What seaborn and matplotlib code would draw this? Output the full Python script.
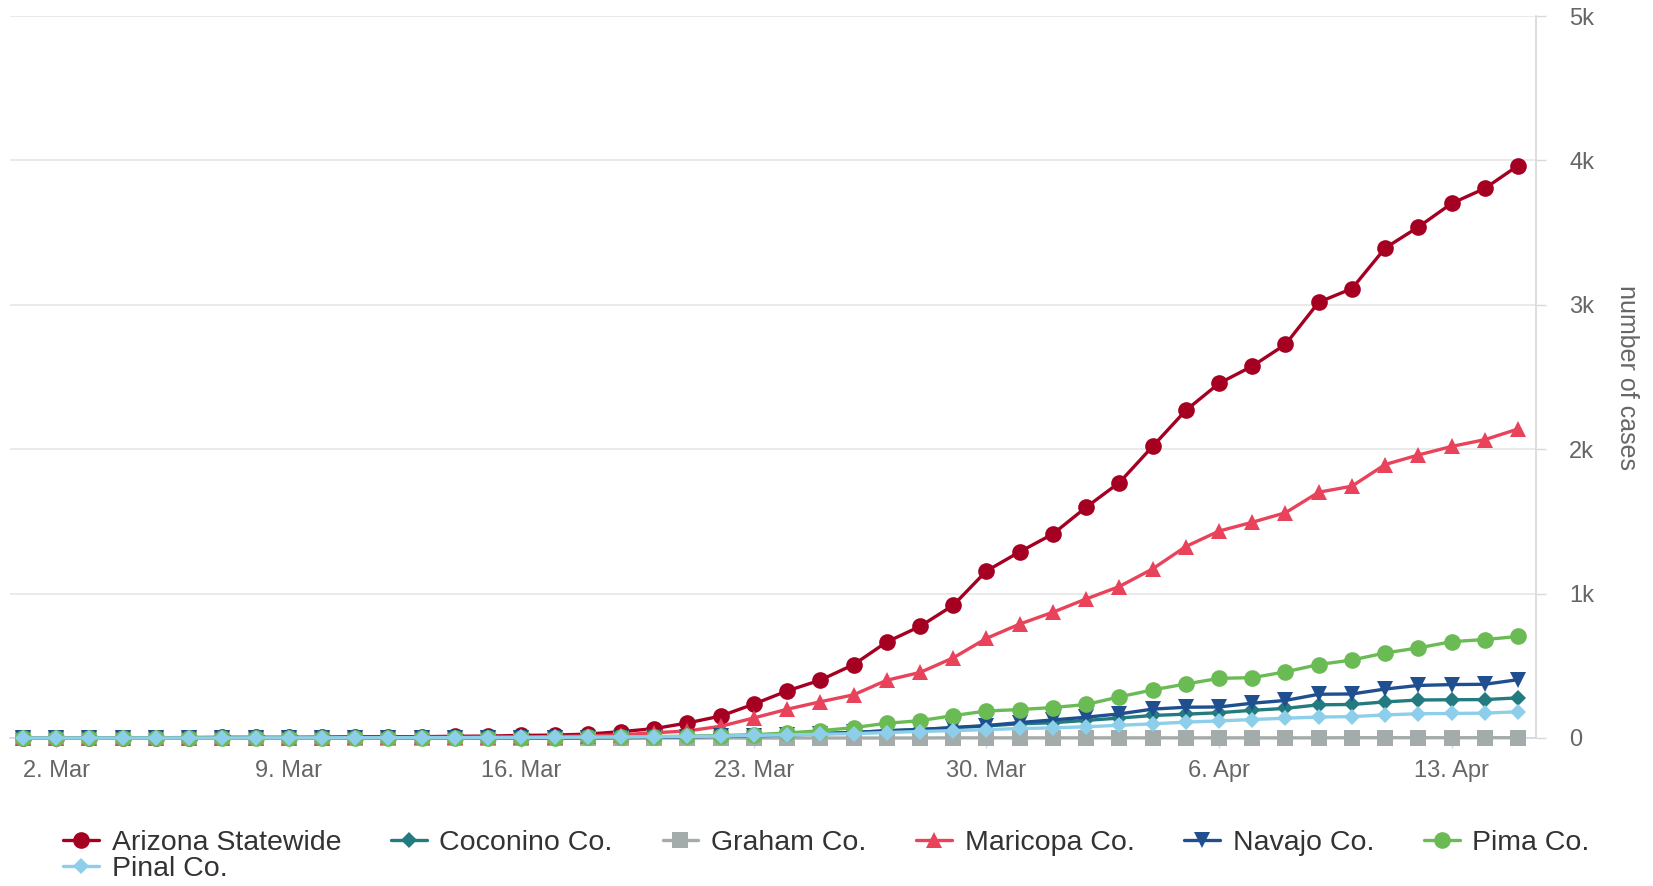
import numpy as np
import pandas as pd
import matplotlib
matplotlib.use("Agg")
import matplotlib.pyplot as plt
import matplotlib.dates as mdates
from matplotlib.ticker import FuncFormatter, FixedLocator
import seaborn as sns

dates = pd.date_range("2020-03-01", "2020-04-15", freq="D")

arizona = [1, 1, 1, 2, 2, 3, 5, 5, 5, 6,
           9, 9, 9, 12, 13, 18, 20, 27, 44, 65,
           104, 152, 235, 326, 401, 508, 665, 773, 919, 1157, 1289,
           1413, 1598, 1769, 2019, 2269, 2456, 2575, 2726, 3018, 3112, 3393, 3539, 3702, 3806, 3964]
coconino = [0, 0, 0, 0, 0, 0, 0, 0, 0, 0,
            0, 0, 0, 0, 0, 1, 2, 3, 5, 7,
            10, 14, 18, 23, 31, 38, 51, 60, 70, 84, 98,
            106, 122, 138, 156, 165, 175, 192, 205, 230, 232, 250, 263, 265, 266, 278]
graham = [0, 0, 0, 0, 0, 0, 0, 0, 0, 0,
          0, 0, 0, 0, 0, 0, 0, 0, 0, 0,
          0, 0, 0, 0, 0, 0, 0, 0, 1, 1, 1,
          1, 1, 1, 1, 1, 1, 1, 1, 1, 2, 2, 2, 2, 2, 2]
maricopa = [0, 0, 0, 0, 0, 0, 1, 1, 1, 3,
            5, 5, 5, 6, 7, 8, 10, 14, 22, 36,
            49, 81, 139, 199, 251, 299, 400, 454, 555, 690, 789,
            871, 963, 1049, 1171, 1326, 1433, 1494, 1560, 1702, 1744, 1894, 1960, 2019, 2066, 2140]
navajo = [0, 0, 0, 0, 0, 0, 0, 0, 0, 0,
          0, 0, 0, 0, 0, 0, 0, 1, 2, 4,
          8, 12, 15, 21, 29, 39, 49, 58, 73, 86, 107,
          125, 144, 167, 200, 213, 215, 241, 260, 303, 305, 339, 364, 370, 372, 404]
pima = [0, 0, 0, 0, 0, 0, 0, 0, 0, 0,
        0, 1, 1, 1, 1, 2, 3, 5, 7, 10,
        12, 17, 23, 35, 50, 72, 102, 120, 155, 187, 197,
        211, 232, 285, 333, 374, 413, 418, 458, 509, 540, 589, 624, 667, 682, 703]
pinal = [0, 0, 0, 0, 0, 0, 0, 1, 1, 1,
         2, 2, 2, 2, 3, 4, 5, 6, 7, 8,
         11, 13, 18, 21, 26, 30, 38, 45, 51, 58, 66,
         70, 78, 88, 98, 110, 118, 128, 137, 145, 148, 160, 168, 170, 172, 182]

series_names = ["Arizona Statewide", "Coconino Co.", "Graham Co.", "Maricopa Co.",
                "Navajo Co.", "Pima Co.", "Pinal Co."]
series_values = [arizona, coconino, graham, maricopa, navajo, pima, pinal]
series_colors = ["#a50021", "#237b80", "#a3abab", "#e8435a", "#1f4f8f", "#6bbb55", "#8dcfea"]
series_markers = ["o", "D", "s", "^", "v", "o", "D"]
marker_sizes = [12, 8.5, 11, 11, 11, 12, 8.5]

x_ticks = pd.to_datetime(["2020-03-02", "2020-03-09", "2020-03-16", "2020-03-23",
                          "2020-03-30", "2020-04-06", "2020-04-13"])
y_ticks = [0, 1000, 2000, 3000, 4000, 5000]
y_tick_labels = ["0", "1k", "2k", "3k", "4k", "5k"]

sns.set_style("white")
plt.rcParams["font.family"] = ["Liberation Sans", "DejaVu Sans"]

fig = plt.figure(figsize=(16.53, 8.86), dpi=100)
ax = fig.add_axes([10 / 1653, 1 - 738 / 886, (1536 - 10) / 1653, (738 - 16) / 886])

for i, (name, vals, col, mk, ms) in enumerate(zip(series_names, series_values, series_colors,
                                                  series_markers, marker_sizes)):
    sns.lineplot(x=dates, y=vals, ax=ax, color=col, marker=mk, markersize=ms,
                 markeredgewidth=0, linewidth=2.4, label=name, zorder=3 + i,
                 clip_on=False)

x0 = mdates.date2num(dates[0]) - 0.39
x1 = mdates.date2num(dates[-1]) + 0.54
ax.set_xlim(x0, x1)
ax.set_ylim(0, 5000)

ax.xaxis.set_major_locator(FixedLocator(mdates.date2num(x_ticks)))
ax.xaxis.set_major_formatter(FuncFormatter(lambda v, p: f"{mdates.num2date(v).day}. {mdates.num2date(v).strftime('%b')}"))
ax.yaxis.set_major_locator(FixedLocator(y_ticks))
ax.set_yticklabels(y_tick_labels)
ax.yaxis.tick_right()
ax.yaxis.set_label_position("right")

ax.grid(axis="y", color="#e6e6e6", linewidth=1.2)
ax.grid(axis="x", visible=False)
for s in ["left", "top"]:
    ax.spines[s].set_visible(False)
ax.spines["bottom"].set_color("#ccd6eb")
ax.spines["bottom"].set_linewidth(1.2)
ax.spines["right"].set_color("#d8d8d8")
ax.spines["right"].set_linewidth(1.2)

ax.tick_params(axis="x", which="major", bottom=True, length=7, width=1, color="#ccd6eb",
               labelsize=17, labelcolor="#666666", pad=9)
ax.tick_params(axis="y", which="major", right=True, left=False, length=7, width=1,
               color="#d8d8d8", labelsize=17, labelcolor="#666666", pad=17)

ax.set_xlabel("")
ax.set_ylabel("number of cases", rotation=270, fontsize=18, color="#666666", labelpad=32)

ax.get_legend().remove()
handles, labels = ax.get_legend_handles_labels()
order = [0, 6, 1, 2, 3, 4, 5]
fig.legend([handles[k] for k in order], [labels[k] for k in order],
           loc="center", bbox_to_anchor=(0.5, 0.034), ncol=6, frameon=False,
           fontsize=20.5, labelcolor="#333333", handlelength=1.25, handletextpad=0.45,
           columnspacing=1.75, labelspacing=0.02, borderaxespad=0)

fig.savefig("out.png", dpi=100)
